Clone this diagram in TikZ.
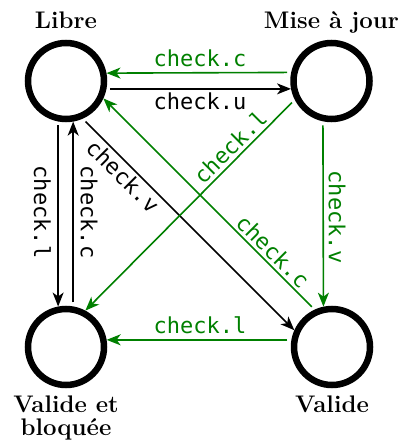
\documentclass[tikz,border=0pt]{standalone}
\usepackage{fontspec}
\newfontfamily\monofont{DejaVu Sans Mono}
\usetikzlibrary{arrows.meta}
\definecolor{grn}{RGB}{0,128,0}
\tikzset{
  state/.style={circle, draw=black, line width=3.25pt, minimum size=38pt, inner sep=0pt},
  title/.style={font=\bfseries\fontsize{12}{14}\selectfont, inner sep=0pt, anchor=base},
  conn/.style={line width=0.8pt, -{Stealth[length=7pt,width=5.5pt,inset=2pt]}, shorten <=2pt},
  blk/.style={conn, draw=black},
  gr/.style={conn, draw=grn},
  lbl/.style={font=\monofont\fontsize{11}{13}\selectfont, inner sep=0pt},
  lblk/.style={lbl, text=black},
  lgr/.style={lbl, text=grn}
}
\begin{document}
\begin{tikzpicture}[x=0.5pt, y=-0.5pt]
\useasboundingbox (0,0) rectangle (410,443);
% states
\node[state] (libre) at (66,81) {};
\node[state] (mise) at (331.5,81) {};
\node[state] (veb) at (66,347) {};
\node[state] (valide) at (332,347) {};
% titles
\node[title] (tlibre) at (66,29) {Libre};
\node[title] (tmise) at (331.5,29) {Mise à jour};
\node[title] (tveb1) at (66,412) {Valide et};
\node[title] (tveb2) at (66,435) {bloquée};
\node[title] (tvalide) at (332,412) {Valide};
% connectors
\draw[gr]  (mise.168.8) -- (libre.11.2);
\draw[blk] (libre.-11.2) -- (mise.191.2);
\draw[blk] (libre.259) -- (veb.101);
\draw[blk] (veb.80) -- (libre.280);
\draw[gr]  (mise.258) -- (valide.102);
\draw[gr]  (valide.170) -- (veb.10);
\draw[blk] (libre.-66.5) -- (valide.156.5);
\draw[gr]  (valide.115) -- (libre.-25);
\draw[gr]  (mise.207.5) -- (veb.62.5);
% labels
\node[lgr, anchor=base] (l1) at (200,67) {check.c};
\node[lblk, anchor=base] (l2) at (200,110) {check.u};
\node[lblk, rotate=-90] (l3) at (42.5,212) {check.l};
\node[lblk, rotate=-90] (l4) at (89,212) {check.c};
\node[lgr, rotate=-90] (l5) at (337,217) {check.v};
\node[lgr, anchor=base] (l6) at (200,333) {check.l};
\node[lblk, rotate=-45] (l7) at (123,176) {check.v};
\node[lgr, rotate=45] (l8) at (230,147) {check.l};
\node[lgr, rotate=-45] (l9) at (273,251) {check.c};
\end{tikzpicture}
\end{document}
